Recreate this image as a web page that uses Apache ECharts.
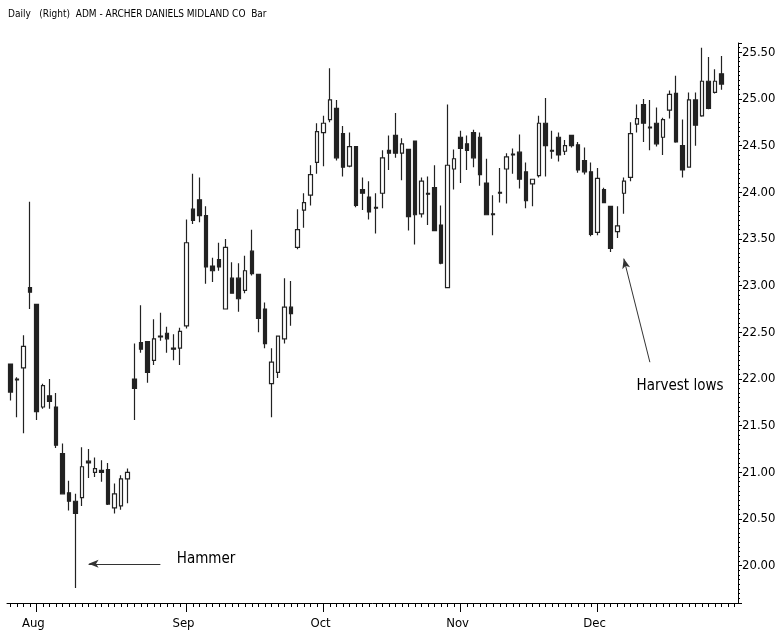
<!DOCTYPE html>
<html>
<head>
<meta charset="utf-8">
<script src="https://cdn.jsdelivr.net/npm/echarts@6/dist/echarts.min.js"></script>
<style>
html, body { margin: 0; padding: 0; background: #fff; }
#main { width: 776px; height: 642px; }
</style>
</head>
<body>
<div id="main"></div>
<script>
// ADM daily, 26 Jul 2005 - 29 Dec 2005
var FONT = '"DejaVu Sans Condensed", "Liberation Sans Narrow", "Liberation Sans", Arial, sans-serif';
var monthNames = ['Jan', 'Feb', 'Mar', 'Apr', 'May', 'Jun', 'Jul', 'Aug', 'Sep', 'Oct', 'Nov', 'Dec'];
var holidays = ['2005-09-05', '2005-11-24', '2005-12-26', '2006-01-02'];

var opens = [22.16, 22.00, 22.12, 22.98, 22.80, 21.70, 21.82, 21.70, 21.20, 20.78,
    20.69, 20.73, 21.12, 21.00, 21.02, 21.03, 20.62, 20.64, 20.93, 22.00,
    22.39, 22.40, 22.20, 22.46, 22.49, 22.33, 22.33, 22.57, 23.82, 23.92,
    23.75, 23.21, 23.28, 22.75, 23.08, 23.08, 22.95, 23.37, 23.12, 22.75,
    21.95, 22.07, 22.43, 22.77, 23.41, 23.81, 23.97, 24.32, 24.64, 24.78,
    24.90, 24.63, 24.28, 24.49, 24.03, 23.95, 23.84, 23.99, 24.45, 24.61,
    24.42, 24.46, 24.55, 23.77, 23.99, 24.05, 23.65, 22.98, 24.25, 24.59,
    24.52, 24.64, 24.59, 24.10, 23.77, 24.00, 24.25, 24.41, 24.43, 24.22,
    24.09, 24.18, 24.74, 24.45, 24.59, 24.44, 24.61, 24.51, 24.34, 24.22,
    23.57, 24.03, 23.85, 23.58, 23.99, 24.16, 24.73, 24.94, 24.70, 24.74,
    24.59, 24.88, 25.06, 24.50, 24.27, 24.99, 24.82, 25.19, 25.07, 25.27];
var closes = [21.86, 21.99, 22.35, 22.93, 21.65, 21.93, 21.76, 21.29, 20.77, 20.69,
    20.56, 21.06, 21.10, 21.04, 21.00, 20.66, 20.77, 20.93, 21.00, 21.90,
    22.32, 22.07, 22.43, 22.45, 22.43, 22.32, 22.51, 23.46, 23.70, 23.75,
    23.20, 23.16, 23.20, 23.41, 22.92, 22.86, 23.16, 23.13, 22.65, 22.38,
    22.18, 22.46, 22.77, 22.70, 23.60, 23.89, 24.19, 24.65, 24.74, 24.99,
    24.37, 24.27, 24.49, 23.86, 23.99, 23.79, 23.83, 24.37, 24.42, 24.42,
    24.52, 23.74, 23.76, 24.12, 23.98, 23.59, 23.24, 24.29, 24.36, 24.47,
    24.45, 24.37, 24.19, 23.76, 23.76, 23.99, 24.38, 24.40, 24.14, 23.91,
    24.14, 24.74, 24.50, 24.44, 24.40, 24.50, 24.50, 24.24, 24.22, 23.55,
    24.15, 23.89, 23.40, 23.64, 24.12, 24.63, 24.79, 24.74, 24.69, 24.52,
    24.78, 25.05, 24.54, 24.24, 24.99, 24.72, 25.19, 24.90, 25.19, 25.16];
var lows = [21.77, 21.59, 21.42, 22.75, 21.56, 21.68, 21.68, 21.26, 20.77, 20.59,
    19.76, 20.64, 20.94, 20.95, 20.90, 20.65, 20.56, 20.60, 20.67, 21.56,
    22.28, 21.96, 22.15, 22.41, 22.28, 22.20, 22.15, 22.54, 23.66, 23.68,
    23.02, 23.04, 23.16, 22.75, 22.92, 22.72, 22.92, 23.11, 22.50, 22.33,
    21.59, 22.01, 22.38, 22.57, 23.39, 23.62, 23.86, 24.20, 24.28, 24.75,
    24.34, 24.17, 24.27, 23.84, 23.81, 23.71, 23.56, 23.83, 24.24, 24.37,
    24.13, 23.59, 23.44, 23.73, 23.65, 23.59, 23.23, 22.98, 24.03, 24.10,
    24.24, 24.27, 24.07, 23.76, 23.54, 23.89, 23.88, 24.20, 24.04, 23.83,
    23.85, 24.16, 24.17, 24.36, 24.33, 24.40, 24.48, 24.21, 24.19, 23.53,
    23.54, 23.89, 23.36, 23.51, 23.77, 24.12, 24.64, 24.54, 24.45, 24.49,
    24.40, 24.79, 24.53, 24.16, 24.27, 24.50, 24.81, 24.89, 25.06, 25.10];
var highs = [22.16, 22.02, 22.47, 23.90, 22.80, 21.95, 22.00, 21.85, 21.31, 20.91,
    20.77, 21.27, 21.25, 21.16, 21.13, 21.10, 20.88, 20.97, 21.04, 22.38,
    22.79, 22.40, 22.64, 22.71, 22.56, 22.48, 22.55, 23.71, 24.20, 24.16,
    23.85, 23.30, 23.46, 23.50, 23.25, 23.24, 23.32, 23.60, 23.12, 22.82,
    22.33, 22.46, 23.08, 23.05, 23.82, 23.99, 24.29, 24.74, 24.82, 25.33,
    24.99, 24.71, 24.64, 24.49, 24.16, 24.12, 23.99, 24.45, 24.61, 24.85,
    24.58, 24.46, 24.55, 24.16, 24.17, 24.29, 23.86, 24.94, 24.46, 24.66,
    24.61, 24.67, 24.64, 24.36, 23.97, 24.26, 24.42, 24.47, 24.62, 24.32,
    24.14, 24.82, 25.01, 24.66, 24.64, 24.56, 24.61, 24.54, 24.48, 24.32,
    24.26, 24.05, 23.85, 23.85, 24.16, 24.75, 24.94, 25.00, 24.99, 24.91,
    24.80, 25.09, 25.25, 24.78, 25.07, 25.07, 25.55, 25.45, 25.32, 25.46];

// trading day categories (two empty days after the last bar)
function tradingDays(y, m, d, count) {
    var out = [];
    var t = new Date(Date.UTC(y, m, d));
    while (out.length < count) {
        var wd = t.getUTCDay();
        var s = t.toISOString().slice(0, 10);
        if (wd !== 0 && wd !== 6 && holidays.indexOf(s) < 0) out.push(s);
        t.setUTCDate(t.getUTCDate() + 1);
    }
    return out;
}
var dates = tradingDays(2005, 6, 26, closes.length + 2);

function isMonthStart(i) {
    if (i <= 0 || i >= closes.length) return false;
    return dates[i].slice(5, 7) !== dates[i - 1].slice(5, 7);
}

var ohlc = [];
for (var i = 0; i < closes.length; i++) {
    ohlc.push([opens[i], closes[i], lows[i], highs[i]]);
}

var myChart = echarts.init(document.getElementById('main'));

var option = {
    animation: false,
    backgroundColor: '#fff',
    title: {
        text: 'Daily   (Right)  ADM - ARCHER DANIELS MIDLAND CO  Bar',
        left: 8,
        top: 9,
        padding: 0,
        textStyle: { fontSize: 10, fontWeight: 'normal', color: '#000', fontFamily: FONT }
    },
    grid: { left: 7, right: 38, top: 43, bottom: 39, outerBoundsMode: 'none' },
    xAxis: [
        {
            type: 'category',
            data: dates,
            axisLine: { show: true, lineStyle: { color: '#000', width: 1 } },
            axisTick: { show: true, alignWithLabel: true, interval: 0, length: 4, lineStyle: { color: '#000' } },
            axisLabel: { show: false },
            splitLine: { show: false }
        },
        {
            type: 'category',
            data: dates,
            position: 'bottom',
            axisLine: { show: false },
            axisTick: {
                show: true,
                alignWithLabel: true,
                length: 9,
                interval: function (idx) { return isMonthStart(idx); },
                lineStyle: { color: '#000' }
            },
            axisLabel: {
                show: true,
                interval: function (idx) { return isMonthStart(idx); },
                formatter: function (v) { return monthNames[+v.slice(5, 7) - 1]; },
                margin: 14,
                padding: [0, 6, 0, 0],
                color: '#000',
                fontSize: 13,
                fontFamily: FONT
            },
            splitLine: { show: false }
        }
    ],
    yAxis: {
        type: 'value',
        position: 'right',
        min: 19.6,
        max: 25.6,
        splitNumber: 12,
        axisLine: { show: true, lineStyle: { color: '#000', width: 1 } },
        axisTick: { show: true, length: 4, lineStyle: { color: '#000' } },
        minorTick: { show: true, splitNumber: 10, length: 2, lineStyle: { color: '#000' } },
        axisLabel: {
            showMinLabel: false,
            showMaxLabel: false,
            margin: 4,
            color: '#000',
            fontSize: 13,
            fontFamily: FONT,
            formatter: function (v) { return (Math.abs(v * 2 - Math.round(v * 2)) < 1e-6) ? v.toFixed(2) : ''; }
        },
        splitLine: { show: false }
    },
    series: [
        {
            type: 'candlestick',
            xAxisIndex: 0,
            data: ohlc,
            barWidth: 4,
            itemStyle: {
                color: '#fff',
                color0: '#222',
                borderColor: '#222',
                borderColor0: '#222',
                borderWidth: 1.2
            },
            markLine: {
                silent: true,
                symbol: ['none', 'arrow'],
                symbolSize: [6, 10],
                label: { show: false },
                lineStyle: { color: '#333', width: 1, type: 'solid' },
                data: [
                    [{ coord: [23, 20.02] }, { coord: [12, 20.02] }],
                    [{ coord: [98, 22.18] }, { coord: [94, 23.29] }]
                ]
            },
            markPoint: {
                silent: true,
                symbol: 'circle',
                symbolSize: 1,
                itemStyle: { color: 'rgba(0,0,0,0)' },
                label: {
                    show: true,
                    position: 'inside',
                    formatter: '{b}',
                    color: '#000',
                    fontSize: 15,
                    fontFamily: FONT
                },
                data: [
                    { name: 'Hammer', coord: [30, 20.07] },
                    { name: 'Harvest lows', coord: [102, 21.92], label: { offset: [4, 0] } }
                ]
            }
        }
    ]
};

myChart.setOption(option);
</script>
</body>
</html>
